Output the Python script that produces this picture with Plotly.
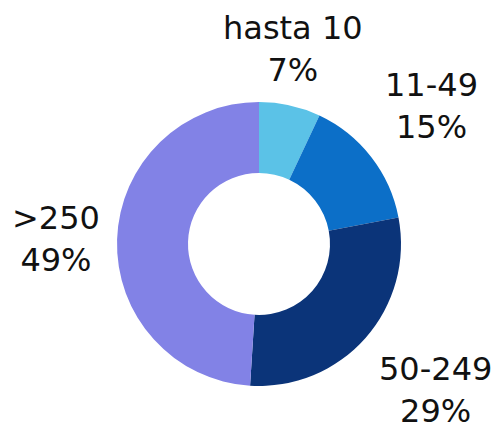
import math
import plotly.graph_objects as go

categories = ["hasta 10", "11-49", "50-249", ">250"]
values = [7, 15, 29, 49]
colors = ["#5BC2E7", "#0C6FC8", "#0B3479", "#8282E6"]

W, H = 504, 433
OFF = 8  # browser body margin
cx_px, cy_px, R = 259 - OFF, 244 - OFF, 142
GAP = 15

fig = go.Figure(go.Pie(
    labels=categories,
    values=values,
    hole=0.5,
    sort=False,
    direction="clockwise",
    rotation=0,
    marker=dict(colors=colors, line=dict(width=0)),
    textinfo="none",
    hoverinfo="label+percent",
    showlegend=False,
    domain=dict(x=[(cx_px - R) / W, (cx_px + R) / W],
                y=[(H - cy_px - R) / H, (H - cy_px + R) / H]),
))

total = sum(values)
cum = 0
for cat, v in zip(categories, values):
    mid = (cum + v / 2) / total * 2 * math.pi
    cum += v
    s, c = math.sin(mid), math.cos(mid)
    r = R + GAP
    x = (cx_px + r * s) / W
    y = (H - cy_px + r * c) / H
    xanchor = "left" if s > 0.5 else ("right" if s < -0.5 else "center")
    yanchor = "bottom" if c > 0.5 else ("top" if c < -0.5 else "middle")
    fig.add_annotation(
        x=x, y=y, xref="paper", yref="paper",
        text=f"{cat}<br>{round(v / total * 100)}%",
        showarrow=False, xanchor=xanchor, yanchor=yanchor,
        align="center",
        font=dict(family="DejaVu Sans, sans-serif", size=32, color="#111111"),
    )

fig.update_layout(
    width=W, height=H,
    margin=dict(l=0, r=0, t=0, b=0),
    paper_bgcolor="white",
    plot_bgcolor="white",
)
fig.write_html("out.html")
